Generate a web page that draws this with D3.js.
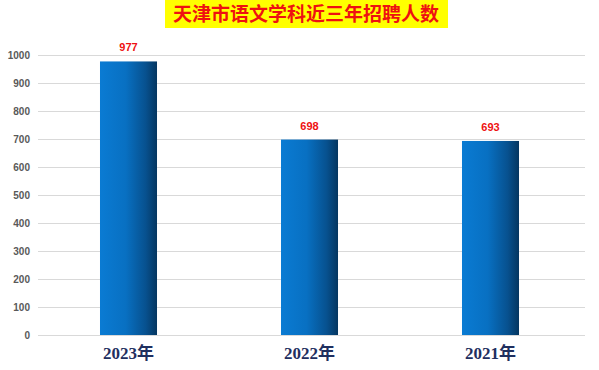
<!DOCTYPE html>
<html>
<head>
<meta charset="utf-8">
<script src="https://cdn.jsdelivr.net/npm/d3@7"></script>
<style>
  body { margin: 0; background: #fff; }
</style>
</head>
<body>
<div id="chart"></div>
<script>
var years = ["2023年", "2022年", "2021年"];
var hires = [977, 698, 693];
var yTicks = [0, 100, 200, 300, 400, 500, 600, 700, 800, 900, 1000];
var title = "天津市语文学科近三年招聘人数";

var svgWidth = 599;
var svgHeight = 370;

var margin = { top: 55, right: 14, bottom: 35, left: 38 };
var width = 585 - margin.left;
var height = svgHeight - margin.top - margin.bottom;

var svg = d3.select("#chart")
  .append("svg")
  .attr("width", svgWidth)
  .attr("height", svgHeight);

// bar gradient, bright blue to dark navy
var grad = svg.append("defs").append("linearGradient")
  .attr("id", "barGrad")
  .attr("x1", "0%").attr("x2", "100%")
  .attr("y1", "0%").attr("y2", "0%");
grad.append("stop").attr("offset", "0%").attr("stop-color", "#0a7bd3");
grad.append("stop").attr("offset", "45%").attr("stop-color", "#0870c2");
grad.append("stop").attr("offset", "80%").attr("stop-color", "#07518f");
grad.append("stop").attr("offset", "100%").attr("stop-color", "#053660");

// title with yellow box
svg.append("rect")
  .attr("x", 165)
  .attr("y", 0)
  .attr("width", 283)
  .attr("height", 28)
  .attr("fill", "#ffff00");

svg.append("text")
  .attr("x", 306)
  .attr("y", 21)
  .attr("text-anchor", "middle")
  .attr("font-family", "Noto Sans CJK SC")
  .attr("font-weight", "bold")
  .attr("font-size", "19px")
  .attr("fill", "#ee1111")
  .text(title);

var chartGroup = svg.append("g")
  .attr("transform", `translate(${margin.left}, ${margin.top})`);

var x = d3.scaleBand()
  .domain(years)
  .range([0, 543])
  .paddingInner(0.685)
  .paddingOuter(0.3425);

var y = d3.scaleLinear()
  .domain([0, 1000])
  .range([height, 0]);

// gridlines
chartGroup.append("g")
  .call(d3.axisLeft(y).tickValues(yTicks).tickSize(-width).tickFormat(""))
  .call(g => g.select(".domain").remove())
  .call(g => g.selectAll("line").attr("stroke", "#d9d9d9").attr("stroke-width", 1));

// y tick labels
chartGroup.append("g")
  .call(d3.axisLeft(y).tickValues(yTicks).tickSize(0).tickPadding(8).tickFormat(d3.format("d")))
  .call(g => g.select(".domain").remove())
  .call(g => g.selectAll("text")
    .attr("font-family", "Liberation Sans")
    .attr("font-weight", "bold")
    .attr("font-size", "10px")
    .attr("fill", "#595959"));

// bars
chartGroup.selectAll("rect.bar")
  .data(hires)
  .enter()
  .append("rect")
  .attr("class", "bar")
  .attr("x", (d, i) => x(years[i]))
  .attr("y", d => y(d))
  .attr("width", x.bandwidth())
  .attr("height", d => height - y(d))
  .attr("fill", "url(#barGrad)");

// value labels
chartGroup.selectAll("text.val")
  .data(hires)
  .enter()
  .append("text")
  .attr("class", "val")
  .attr("x", (d, i) => x(years[i]) + x.bandwidth() / 2)
  .attr("y", d => y(d) - 10)
  .attr("text-anchor", "middle")
  .attr("font-family", "Liberation Sans")
  .attr("font-weight", "bold")
  .attr("font-size", "11px")
  .attr("fill", "#ee1111")
  .text(d => d);

// category labels
chartGroup.append("g")
  .attr("transform", `translate(0, ${height})`)
  .call(d3.axisBottom(x).tickSize(0).tickPadding(12))
  .call(g => g.select(".domain").remove())
  .call(g => g.selectAll("text")
    .attr("font-family", "Liberation Serif, Noto Sans CJK SC")
    .attr("font-weight", "bold")
    .attr("font-size", "17px")
    .attr("fill", "#1f2f5f"));
</script>
</body>
</html>
